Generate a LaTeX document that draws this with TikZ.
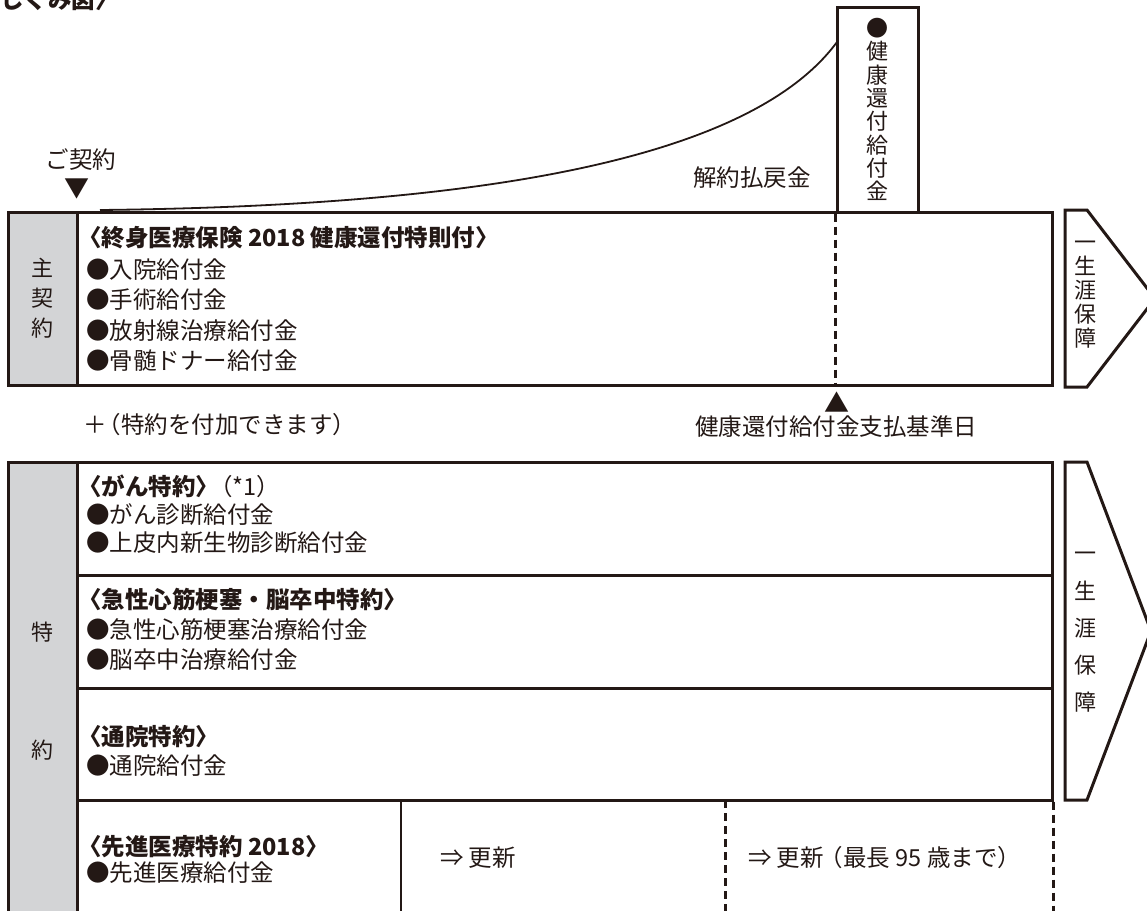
\documentclass[tikz,border=0pt]{standalone}
\usepackage{fontspec}
\setmainfont{Noto Sans CJK JP}
\usetikzlibrary{positioning}

\definecolor{boxgray}{RGB}{211,212,214}
\definecolor{ink}{RGB}{35,24,21}

\tikzset{
  boxline/.style={draw=ink, line width=3pt},
  rowtext/.style={anchor=west, inner sep=0pt, text=ink, font=\fontsize{23.5}{30}\selectfont},
  headtext/.style={rowtext, font=\fontsize{23.5}{30}\selectfont\bfseries},
  vtext/.style={align=center, inner sep=0pt, text=ink, font=\fontsize{22}{#1}\selectfont},
  vtext/.default=24,
  renewline/.style={draw=ink, line width=3pt, dash pattern=on 8pt off 5pt},
}

\begin{document}
\begin{tikzpicture}[x=1pt, y=-1pt]
    \useasboundingbox (0,0) rectangle (1147,910);

    \node[headtext, anchor=west] (caption) at (0,0) {しくみ図〉};

    % main contract
    \node[boxline, fill=boxgray, minimum width=69, minimum height=173, vtext=30] (mainside) at (42.5,298.5) {主\\契\\約};
    \node[boxline, minimum width=975, minimum height=173] (mainbox) at (564.5,298.5) {};

    \node[headtext] (maintitle) at (78,238) {〈終身医療保険 2018 健康還付特則付〉};
    \node[rowtext] (main1) at (86,270) {●入院給付金};
    \node[rowtext] (main2) at (86,300) {●手術給付金};
    \node[rowtext] (main3) at (86,331) {●放射線治療給付金};
    \node[rowtext] (main4) at (86,361) {●骨髄ドナー給付金};

    % health refund
    \node[boxline, fill=white, minimum width=81, minimum height=205, vtext=23.3] (refund) at (877.5,109.5) {●\\健\\康\\還\\付\\給\\付\\金};
    \coordinate (startpt) at (100,210);
    \coordinate (peak) at (837,42);
    \draw[draw=ink, line width=1.8pt] (startpt) .. controls (480,206) and (750,160) .. (peak);
    \draw[draw=ink, line width=2.5pt, dash pattern=on 8pt off 5pt] (refund.south west) -- (refund.south west |- mainbox.south);

    \node[rowtext, anchor=center] (contract) at (81,160) {ご契約};
    \node[text=ink, inner sep=0pt, font=\fontsize{25}{25}\selectfont] (startmark) at (77,189) {▼};
    \node[rowtext, anchor=center] (surrender) at (752,178) {解約払戻金};
    \node[text=ink, inner sep=0pt, font=\fontsize{25}{25}\selectfont] (paymark) at (837,402) {▲};
    \node[rowtext, anchor=center] (payday) at (836,427) {健康還付給付金支払基準日};

    \draw[boxline, line join=miter] (1065,210) -- (1087,210) -- (1155,298.5) -- (1087,387) -- (1065,387) -- cycle;
    \node[vtext=24] (life1) at (1085,295) {一\\生\\涯\\保\\障};

    \node[rowtext] (addon) at (83,425) {＋\hspace{-9pt}（特約を付加できます）};

    % riders
    \node[boxline, fill=boxgray, minimum width=69, minimum height=460] (riderside) at (42.5,692) {};
    \node[vtext] (rider1) at (42.5,632) {特};
    \node[vtext] (rider2) at (42.5,750) {約};
    \node[boxline, minimum width=975, minimum height=113] (cancer) at (564.5,518.5) {};
    \node[boxline, minimum width=975, minimum height=113] (heart) at (564.5,631.5) {};
    \node[boxline, minimum width=975, minimum height=112] (clinic) at (564.5,744) {};

    \node[headtext] (cancertitle) at (78,486) {〈がん特約〉\hspace{-10pt}\mdseries（*1）};
    \node[rowtext] (cancer1) at (86,515) {●がん診断給付金};
    \node[rowtext] (cancer2) at (86,543) {●上皮内新生物診断給付金};

    \node[headtext] (hearttitle) at (78,600) {〈急性心筋梗塞・脳卒中特約〉};
    \node[rowtext] (heart1) at (86,630) {●急性心筋梗塞治療給付金};
    \node[rowtext] (heart2) at (86,660) {●脳卒中治療給付金};

    \node[headtext] (clinictitle) at (78,737) {〈通院特約〉};
    \node[rowtext] (clinic1) at (86,766) {●通院給付金};

    \node[headtext] (advtitle) at (78,847) {〈先進医療特約 2018〉};
    \node[rowtext] (adv1) at (86,873) {●先進医療給付金};

    \coordinate (renew1) at (401,800);
    \coordinate (renew2) at (725,800);
    \draw[draw=ink, line width=2.5pt] (renew1) -- (renew1 |- riderside.south);
    \draw[renewline] (renew2) -- (renew2 |- riderside.south);
    \draw[renewline] (clinic.south east) -- (clinic.south east |- riderside.south);
    \node[rowtext] (renewtext1) at (440,858) {⇒ 更新};
    \node[rowtext] (renewtext2) at (748,858) {⇒ 更新\hspace{-4pt}（最長 95 歳まで）};

    \draw[boxline, line join=miter] (1065,462) -- (1087,462) -- (1151,631) -- (1087,800) -- (1065,800) -- cycle;
    \node[vtext=37.3] (life2) at (1085,632.5) {一\\生\\涯\\保\\障};
\end{tikzpicture}
\end{document}
